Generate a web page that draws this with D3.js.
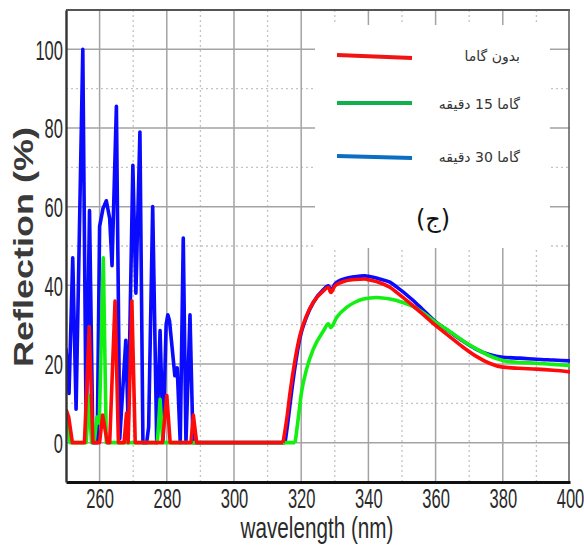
<!DOCTYPE html>
<html>
<head>
<meta charset="utf-8">
<script src="https://cdn.jsdelivr.net/npm/d3@7"></script>
<style>
  body { margin: 0; background: #fff; }
  svg { display: block; }
</style>
</head>
<body>
<script>
const w = 584;
const h = 551;

// axis values
const xTicks = [260, 280, 300, 320, 340, 360, 380, 400];
const xMinor = [270, 290, 310, 330, 350, 370, 390];
const yTicks = [0, 20, 40, 60, 80, 100];
const yMinor = [10, 30, 50, 70, 90];

const legendLabels = ["بدون گاما", "گاما 15 دقیقه", "گاما 30 دقیقه"];
const panelLabel = "(ج)";

// [wavelength nm, reflection %]
const redSeries = [[250,8.5],[250.8,6.5],[251.9,0],[255.5,0],[256.9,29.5],[258,0],[260,0],[260.9,7],[262.3,0],[263,0],
  [264.6,36],[265.6,0],[267.3,0],[268,7.5],[268.5,0],[269.6,36],[270.6,0],[278.7,0],[280,12],[281,0],
  [287.2,0],[287.9,7],[288.9,0],[314.6,0],[315.7,6],[316.7,12.8],[318.2,21.2],[319.6,27.2],[321.6,32.3],[323.6,35.7],
  [326.6,38.6],[328.1,39.5],[328.8,38.2],[330.1,39.9],[333.5,41.2],[336,41.5],[339,41.6],[340,41.4],[343,40.8],[346.4,39.5],
  [348.4,38.2],[353,35],[356,32.8],[360,29.8],[364,27.1],[368,24.4],[372,22],[376,20.2],[380,19.2],[385,18.9],
  [390,18.7],[395,18.4],[400,18]];

const greenSeries = [[250,7],[250.4,6],[251.2,0],[256,0],[256.9,12],[257.6,0],[258.4,0],[259.2,6.5],[259.9,5],[261.1,47],
  [262,0],[277.2,0],[278,11],[278.8,0],[318.2,0],[319.1,6],[320.1,12.8],[321.6,18.7],[323.6,23.8],[326.6,28.4],
  [328.1,30.2],[328.8,29.3],[330.6,31.9],[333.5,34.4],[336,35.7],[338.5,36.5],[342.5,36.9],[346.4,36.5],[350,35.7],[353.4,34.6],
  [357,32.6],[360,30.6],[364,28.4],[368,26],[372,23.9],[376,22.1],[380,20.9],[385,20.4],[390,20.2],[395,19.9],[400,19.6]];

const blueSeries = [[250,24],[250.9,12.5],[252,47],[253,8.5],[255,100],[256,2],[257,59],[258,0],[259.3,0],[260,55],
  [261,59.5],[262,61.5],[263,57],[263.7,45],[265,85.5],[266,1],[267.8,26],[268.5,5],[269.9,70.5],[270.8,38],
  [272,79],[272.9,0],[274,0],[274.6,4],[275.8,60],[277,0],[278,28.5],[278.9,0.5],[279.8,30],[280.3,32.5],
  [280.8,31],[282.4,17],[283.1,19],[284,0],[284.9,52],[285.7,0],[286.9,32.5],[287.8,0],[315.2,0],[316,5],
  [317,12],[318.2,19.5],[319.6,26.5],[321.6,32],[323.6,35.6],[326.6,38.9],[328.1,39.9],[328.8,38.7],[330.1,40.4],[333.5,41.8],
  [336,42.2],[339,42.4],[340,42.3],[343,41.7],[346.4,40.8],[348.4,39.6],[353,36.4],[356,34],[360,30.7],[364,28.3],
  [368,25.9],[372,23.8],[376,22.4],[380,21.7],[385,21.5],[390,21.2],[395,21],[400,20.8]];

const series = [
  { data: blueSeries, color: "#0a0aff", legend: "#0a6fc2" },
  { data: greenSeries, color: "#12f012", legend: "#12b04c" },
  { data: redSeries, color: "#ff0a0a", legend: "#f01414" }
];

const x = d3.scaleLinear().domain([250, 400]).range([66, 570]);
const y = d3.scaleLinear().domain([-10, 110]).range([482, 10]);

const svg = d3.select("body").append("svg")
  .attr("width", w)
  .attr("height", h);

svg.append("defs").append("clipPath").attr("id", "plot")
  .append("rect")
  .attr("x", x(250)).attr("y", y(110))
  .attr("width", x(400) - x(250)).attr("height", y(-10) - y(110));

// grid
const grid = svg.append("g");
grid.selectAll(".vmin").data(xMinor).join("line")
  .attr("x1", d => x(d)).attr("x2", d => x(d))
  .attr("y1", y(110)).attr("y2", y(-10))
  .attr("stroke", "#c4c4c4").attr("stroke-width", 1.3).attr("stroke-dasharray", "2,3");
grid.selectAll(".hmin").data(yMinor).join("line")
  .attr("x1", x(250)).attr("x2", x(400))
  .attr("y1", d => y(d)).attr("y2", d => y(d))
  .attr("stroke", "#c4c4c4").attr("stroke-width", 1.3).attr("stroke-dasharray", "2,3");
grid.selectAll(".vmaj").data(xTicks.slice(0, -1)).join("line")
  .attr("x1", d => x(d)).attr("x2", d => x(d))
  .attr("y1", y(110)).attr("y2", y(-10))
  .attr("stroke", "#a3a3a3").attr("stroke-width", 1.5);
grid.selectAll(".hmaj").data(yTicks).join("line")
  .attr("x1", x(250)).attr("x2", x(400))
  .attr("y1", d => y(d)).attr("y2", d => y(d))
  .attr("stroke", "#a3a3a3").attr("stroke-width", 1.5);

// legend box
svg.append("rect")
  .attr("x", 315).attr("y", 25)
  .attr("width", 235).attr("height", 223)
  .attr("fill", "#fff");

// frame
svg.append("line")
  .attr("x1", x(250)).attr("x2", x(400))
  .attr("y1", y(110)).attr("y2", y(110))
  .attr("stroke", "#555").attr("stroke-width", 2);
svg.append("line")
  .attr("x1", x(400) - 1).attr("x2", x(400) - 1)
  .attr("y1", y(110)).attr("y2", y(-10))
  .attr("stroke", "#666").attr("stroke-width", 1.6);

// series: sharp zigzag below 300 nm, smooth band above it
const sharp = d3.line().x(d => x(d[0])).y(d => y(d[1]));
const smooth = d3.line().x(d => x(d[0])).y(d => y(d[1])).curve(d3.curveMonotoneX);

const plot = svg.append("g").attr("clip-path", "url(#plot)");
series.forEach(s => {
  const cut = s.data.findIndex(d => d[0] > 300);
  [[s.data.slice(0, cut + 1), sharp], [s.data.slice(cut), smooth]].forEach(([part, gen]) => {
    plot.append("path")
      .datum(part)
      .attr("d", gen)
      .attr("fill", "none")
      .attr("stroke", s.color)
      .attr("stroke-width", 3.6)
      .attr("stroke-linejoin", "round");
  });
});

// axes
const xAxis = d3.axisBottom(x).tickValues(xTicks).tickSize(0).tickSizeOuter(0).tickPadding(26);
const gx = svg.append("g").attr("transform", "translate(0," + y(-10) + ")").call(xAxis);
gx.select(".domain").attr("stroke", "#111").attr("stroke-width", 3);

const yAxis = d3.axisLeft(y).tickValues(yTicks).tickSize(0).tickSizeOuter(0).tickPadding(3);
const gy = svg.append("g").attr("transform", "translate(" + x(250) + ",0)").call(yAxis);
gy.select(".domain").attr("stroke", "#333").attr("stroke-width", 2.4);

svg.selectAll(".tick text")
  .attr("font-family", "Liberation Sans, Arial, sans-serif")
  .attr("font-size", 27)
  .attr("fill", "#2a2a2a")
  .attr("textLength", d => String(d).length * 9.2)
  .attr("lengthAdjust", "spacingAndGlyphs");
gx.selectAll(".tick text").attr("dy", "0");
gy.selectAll(".tick text").attr("dy", "0.36em");

// axis titles
svg.append("text")
  .attr("transform", "translate(33,247) rotate(-90)")
  .attr("text-anchor", "middle")
  .attr("font-family", "Liberation Sans, Arial, sans-serif")
  .attr("font-weight", "bold")
  .attr("font-size", 27)
  .attr("fill", "#3a3a3a")
  .attr("textLength", 240)
  .attr("lengthAdjust", "spacingAndGlyphs")
  .text("Reflection (%)");

svg.append("text")
  .attr("x", 317).attr("y", 538)
  .attr("text-anchor", "middle")
  .attr("font-family", "Liberation Sans, Arial, sans-serif")
  .attr("font-size", 30)
  .attr("fill", "#2a2a2a")
  .attr("textLength", 153)
  .attr("lengthAdjust", "spacingAndGlyphs")
  .text("wavelength (nm)");

// legend
const legendY = [[55, 58], [103, 103], [156, 158]];
const legendOrder = [series[2], series[1], series[0]];
legendOrder.forEach((s, i) => {
  svg.append("line")
    .attr("x1", 337).attr("x2", 412)
    .attr("y1", legendY[i][0]).attr("y2", legendY[i][1])
    .attr("stroke", s.legend).attr("stroke-width", 4);
  svg.append("text")
    .attr("x", 520).attr("y", legendY[i][0] + 6)
    .attr("text-anchor", "end")
    .attr("font-family", "DejaVu Sans, sans-serif")
    .attr("font-size", 14)
    .attr("fill", "#333")
    .text(legendLabels[i]);
});

svg.append("text")
  .attr("x", 433).attr("y", 227)
  .attr("text-anchor", "middle")
  .attr("font-family", "DejaVu Sans, sans-serif")
  .attr("font-size", 24)
  .attr("fill", "#111")
  .text(panelLabel);
</script>
</body>
</html>
